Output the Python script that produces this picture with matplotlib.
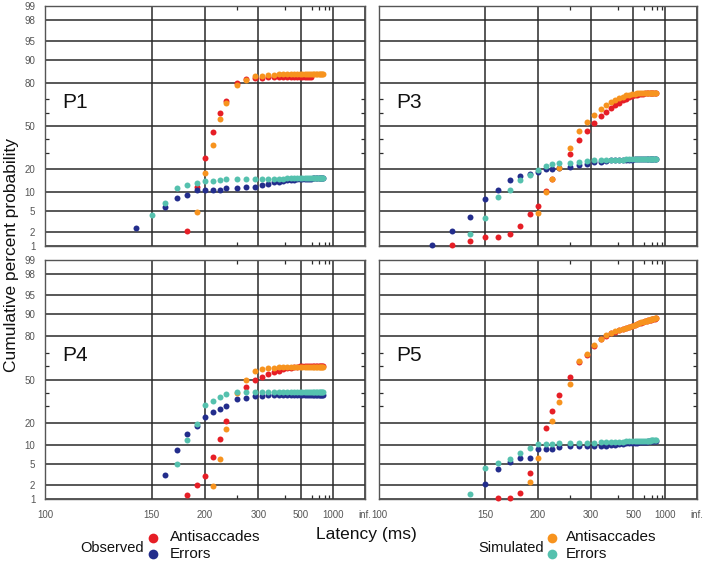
import math
import numpy as np
import matplotlib
matplotlib.use("Agg")
import matplotlib.pyplot as plt
from matplotlib.ticker import FixedLocator, FixedFormatter, NullFormatter
from matplotlib.lines import Line2D

plt.rcParams['font.family'] = ['Liberation Sans', 'DejaVu Sans']

n = np.nan
# latency bins (ms)
LAT = [120, 130, 140, 150, 160, 170, 180, 190, 200, 210, 220, 230, 250, 270, 290, 310,
       330, 350, 370, 390, 410, 430, 450, 470, 490, 510, 530, 550, 570, 590, 610, 630,
       650, 670, 690, 710, 730, 750, 770]

# ---- P1 ----
P1_obs_anti = [n, n, n, n, n, n, 2.1, 11.9, 26.6, 45.6, 59.8, 68.8, 80.0, 81.9,
               82.4, 82.6, 82.7, 82.8, 82.9, 82.9, 83.0, 83.0, 83.0, 83.0, 83.0, 83.0,
               83.0, 83.0, 83.0, 83.0, n, n, n, n, n, n, n, n, n]
P1_sim_anti = [n, n, n, n, n, n, n, 4.8, 17.9, 35.8, 55.2, 67.4, 78.7, 81.6,
               83.3, 83.6, 83.8, 84.0, 84.1, 84.1, 84.2, 84.2, 84.2, 84.2, 84.2, 84.3,
               84.3, 84.3, 84.3, 84.3, 84.3, 84.3, 84.3, 84.3, 84.3, 84.3, 84.3, 84.3, 84.3]
P1_obs_err = [n, n, 2.4, n, 5.9, 8.1, 9.1, 10.6, 10.6, 10.7, 10.8, 11.4, 11.4, 11.7,
              11.9, 12.7, 13.2, 13.8, 14.0, 14.4, 14.6, 14.8, 14.9, 15.0, 15.1, 15.2,
              15.3, 15.3, 15.4, 15.4, 15.5, 15.5, 15.6, 15.6, 15.7, 15.7, 15.8, 15.8, 15.8]
P1_sim_err = [n, n, n, 4.2, 6.8, 11.4, 12.6, 13.5, 14.4, 14.4, 14.8, 15.1, 15.1, 15.2,
              15.3, 15.3, 15.4, 15.4, 15.4, 15.4, 15.5, 15.5, 15.5, 15.5, 15.6, 15.6,
              15.6, 15.6, 15.6, 15.7, 15.7, 15.7, 15.7, 15.7, 15.8, 15.8, 15.8, 15.8, 15.8]

# ---- P3 ----
P3_obs_anti = [n, 1.05, 1.3, 1.6, 1.6, 1.8, 2.6, 4.4, 6.0, 10.4, 15.3, n, 29.4, 39.4,
               46.5, 52.0, 57.5, 61.0, 63.5, 65.5, 67.5, 69.0, 70.0, 71.0, 71.8, 72.3,
               72.8, 73.1, 73.3, 73.5, 73.6, 73.7, 73.7, 73.8, 73.8, 73.8, 73.8, 73.8, 73.8]
P3_sim_anti = [n, n, n, n, n, n, n, n, 4.6, 10.2, 15.1, 21.0, 33.3, 46.1,
               52.8, 58.8, 63.0, 65.8, 68.0, 69.5, 70.7, 71.6, 72.3, 72.8, 73.2, 73.5,
               73.7, 73.9, 74.0, 74.0, 74.0, 74.0, 74.0, 74.0, 74.0, 74.0, 74.0, 74.0, 74.0]
P3_obs_err = [1.05, 2.06, 3.9, 7.9, 10.8, 14.8, 16.6, 17.6, 18.4, 20.1, 20.3, 20.6, 21.4, 22.5,
              23.3, 24.0, 24.5, 25.0, 25.3, 25.5, 25.6, 25.7, 25.7, 25.8, 25.8, 25.9,
              25.9, 26.0, 26.0, 26.0, 26.1, 26.1, 26.1, 26.2, 26.2, 26.2, 26.2, 26.2, 26.2]
P3_sim_err = [n, n, 1.8, 3.75, 8.5, 10.8, 14.7, 17.2, 19.5, 22.0, 22.9, 23.4, 23.9, 24.5,
              25.0, 25.3, 25.5, 25.6, 25.7, 25.7, 25.8, 25.8, 25.9, 25.9, 26.0, 26.0,
              26.0, 26.1, 26.1, 26.1, 26.2, 26.2, 26.2, 26.3, 26.3, 26.3, 26.3, 26.3, 26.3]

# ---- P4 ----
P4_obs_anti = [n, n, n, n, n, n, 1.25, 2.0, 3.05, 6.5, 12.3, 21.2, n, 44.0,
               49.3, 52.0, 54.6, 55.8, 56.8, 57.8, 58.5, 59.1, 59.5, 59.8, 60.0, 60.2,
               60.3, 60.4, 60.5, 60.5, 60.6, 60.6, 60.6, 60.6, 60.6, 60.6, 60.6, 60.6, 60.6]
P4_sim_anti = [n, n, n, n, n, n, n, n, n, 1.9, 6.1, 17.0, 39.3, 50.0,
               56.5, 58.3, 58.9, 59.2, 59.4, 59.5, 59.5, 59.5, 59.5, 59.5, 59.5, 59.5,
               59.5, 59.6, 59.6, 59.6, 59.6, 59.6, 59.6, 59.6, 59.6, 59.6, 59.6, 59.6, 59.6]
P4_obs_err = [n, n, n, n, 3.1, 8.4, 14.6, 18.3, 23.0, 26.1, 28.1, 30.5, 34.9, 36.2,
              37.3, 37.7, 37.9, 38.0, 38.0, 38.0, 38.0, 38.0, 38.0, 38.1, 38.1, 38.1,
              38.1, 38.1, 38.1, 38.1, 38.1, 38.2, 38.2, 38.2, 38.2, 38.2, 38.2, 38.2, 38.2]
P4_sim_err = [n, n, n, n, n, 4.9, 11.9, 19.5, 30.7, 34.0, 36.4, 38.7, 40.7, 40.4,
              40.5, 40.5, 40.5, 40.5, 40.5, 40.6, 40.6, 40.6, 40.6, 40.6, 40.6, 40.6,
              40.6, 40.6, 40.6, 40.7, 40.7, 40.7, 40.7, 40.7, 40.7, 40.7, 40.7, 40.7, 40.7]

# ---- P5 ----
P5_obs_anti = [n, n, n, n, 1.03, 1.03, 1.37, 3.5, n, 17.2, 27.3, 37.8, 51.9, 63.0,
               68.5, 74.0, 78.3, 80.4, 81.5, 82.4, 83.0, 83.6, 84.1, 84.6, 85.1, 85.6,
               86.0, 86.3, 86.6, 86.9, 87.1, 87.3, 87.5, 87.7, 87.8, 88.0, 88.1, 88.2, 88.3]
P5_sim_anti = [n, n, n, n, n, n, n, 2.27, 6.3, n, 21.0, 32.8, 46.8, 63.7,
               69.2, 74.6, 78.5, 80.6, 81.7, 82.5, 83.1, 83.7, 84.2, 84.7, 85.2, 85.6,
               86.0, 86.4, 86.7, 87.0, 87.2, 87.4, 87.6, 87.8, 87.9, 88.1, 88.2, 88.3, 88.4]
P5_obs_err = [n, n, n, 2.07, 4.15, 5.5, 6.4, 6.4, 8.8, 8.9, 8.9, 9.6, 9.7, 9.7,
              9.8, 9.8, 9.8, 9.9, 10.0, 10.2, 10.4, 10.6, 10.7, 10.8, 10.9, 11.0,
              11.0, 11.1, 11.2, 11.2, 11.3, 11.3, 11.4, 11.4, 11.5, 11.5, 11.6, 11.6, 11.7]
P5_sim_err = [n, n, 1.27, 4.2, 5.2, 6.2, 7.6, 9.2, 10.3, 10.5, 10.6, 10.7, 10.8, 10.9,
              11.0, 11.0, 11.1, 11.1, 11.2, 11.2, 11.3, 11.3, 11.4, 11.4, 11.4, 11.5,
              11.5, 11.5, 11.6, 11.6, 11.6, 11.7, 11.7, 11.7, 11.8, 11.8, 11.8, 11.9, 11.9]

PANELS = ['P1', 'P3', 'P4', 'P5']
DATA = {
    'P1': (P1_obs_anti, P1_obs_err, P1_sim_anti, P1_sim_err),
    'P3': (P3_obs_anti, P3_obs_err, P3_sim_anti, P3_sim_err),
    'P4': (P4_obs_anti, P4_obs_err, P4_sim_anti, P4_sim_err),
    'P5': (P5_obs_anti, P5_obs_err, P5_sim_anti, P5_sim_err),
}

X_TICKS = [100, 150, 200, 300, 500, 1000, 1e12]
X_TICKLABELS = ['100', '150', '200', '300', '500', '1000', 'inf.']
X_MINOR = [250, 400, 600, 700, 800, 900]
Y_TICKS = [1, 2, 5, 10, 20, 50, 80, 90, 95, 98, 99]
Y_MINOR = [30, 40, 60, 70]

COLORS = ['#e61e26', '#232d8c', '#f7931e', '#55c1ae']  # obs anti, obs err, sim anti, sim err

# ---- scales: reciprocal latency and probit ----
def recip(L):
    L = np.asarray(L, dtype=float)
    with np.errstate(divide='ignore', invalid='ignore'):
        return -1000.0 / L

A = [-3.969683028665376e+01, 2.209460984245205e+02, -2.759285104469687e+02,
     1.383577518672690e+02, -3.066479806614716e+01, 2.506628277459239e+00]
B = [-5.447609879822406e+01, 1.615858368580409e+02, -1.556989798598866e+02,
     6.680131188771972e+01, -1.328068155288572e+01]
C = [-7.784894002430293e-03, -3.223964580411365e-01, -2.400758277161838e+00,
     -2.549732539343734e+00, 4.374664141464968e+00, 2.938163982698783e+00]
D = [7.784695709041462e-03, 3.224671290700398e-01, 2.445134137142996e+00,
     3.754408661907416e+00]


def probit(pct):
    arr = np.asarray(pct, dtype=float)
    shape = arr.shape
    p = np.clip(np.atleast_1d(arr).ravel() / 100.0, 1e-12, 1 - 1e-12)
    out = np.full(p.shape, np.nan)
    plow = 0.02425
    with np.errstate(invalid='ignore'):
        lo = p < plow
        hi = p > 1 - plow
    mid = (~lo) & (~hi) & np.isfinite(p)
    q = np.sqrt(-2 * np.log(p[lo]))
    out[lo] = (((((C[0]*q+C[1])*q+C[2])*q+C[3])*q+C[4])*q+C[5]) / ((((D[0]*q+D[1])*q+D[2])*q+D[3])*q+1)
    q = p[mid] - 0.5
    r = q * q
    out[mid] = (((((A[0]*r+A[1])*r+A[2])*r+A[3])*r+A[4])*r+A[5])*q / (((((B[0]*r+B[1])*r+B[2])*r+B[3])*r+B[4])*r+1)
    q = np.sqrt(-2 * np.log(1 - p[hi]))
    out[hi] = -(((((C[0]*q+C[1])*q+C[2])*q+C[3])*q+C[4])*q+C[5]) / ((((D[0]*q+D[1])*q+D[2])*q+D[3])*q+1)
    return out.reshape(shape)


_erf = np.vectorize(math.erf, otypes=[float])


def probit_inv(z):
    z = np.asarray(z, dtype=float)
    return 50.0 * (1.0 + _erf(z / math.sqrt(2.0)))


W, H = 704, 561
fig = plt.figure(figsize=(W / 100, H / 100), dpi=100)

boxes = {
    'P1': (45, 6, 365, 246),
    'P3': (379, 6, 697, 246),
    'P4': (45, 260, 365, 499),
    'P5': (379, 260, 697, 499),
}

GRID = '#2a2a2a'
TICKC = '#555555'

for name in PANELS:
    x0, y0, x1, y1 = boxes[name]
    ax = fig.add_axes([x0 / W, 1 - y1 / H, (x1 - x0) / W, (y1 - y0) / H])
    ax.set_xscale('function', functions=(recip, recip))
    ax.set_yscale('function', functions=(probit, probit_inv))
    ax.set_xlim(100, 1e12)
    ax.set_ylim(1, 99)

    ax.xaxis.set_major_locator(FixedLocator(X_TICKS))
    ax.xaxis.set_minor_locator(FixedLocator(X_MINOR))
    ax.yaxis.set_major_locator(FixedLocator(Y_TICKS))
    ax.yaxis.set_minor_locator(FixedLocator(Y_MINOR))
    ax.xaxis.set_minor_formatter(NullFormatter())
    ax.yaxis.set_minor_formatter(NullFormatter())

    bottom_row = name in ('P4', 'P5')
    left_col = name in ('P1', 'P4')
    if bottom_row:
        ax.xaxis.set_major_formatter(FixedFormatter(X_TICKLABELS))
    else:
        ax.xaxis.set_major_formatter(NullFormatter())
    if left_col:
        ax.yaxis.set_major_formatter(FixedFormatter([str(v) for v in Y_TICKS]))
    else:
        ax.yaxis.set_major_formatter(NullFormatter())

    ax.tick_params(axis='x', which='major', length=0, pad=8, labelsize=7, labelcolor=TICKC)
    ax.tick_params(axis='y', which='major', length=0, pad=7, labelsize=7, labelcolor=TICKC)
    ax.tick_params(axis='x', which='minor', direction='in', length=3, width=0.9,
                   color=GRID, top=True, bottom=True)
    ax.tick_params(axis='y', which='minor', direction='in', length=3, width=0.9,
                   color=GRID, left=True, right=True)

    ax.grid(True, which='major', color=GRID, linewidth=1.1)
    ax.set_axisbelow(True)
    for s in ax.spines.values():
        s.set_color('#555555')
        s.set_linewidth(1.0)

    obs_a, obs_e, sim_a, sim_e = DATA[name]
    for series, col in zip((obs_a, obs_e, sim_a, sim_e), COLORS):
        ax.plot(LAT, series, linestyle='none', marker='o', markersize=4.3,
                markeredgewidth=0, color=col, clip_on=False, zorder=3)

    ax.text(0.055, 0.60, name, transform=ax.transAxes, fontsize=15,
            ha='left', va='center', color='#111111')

# axis labels
fig.text(12 / W, 1 - 255 / H, 'Cumulative percent probability', rotation=90,
         ha='center', va='center', fontsize=12.5, color='#111111')
fig.text(366 / W, 1 - 535 / H, 'Latency (ms)', ha='center', va='center',
         fontsize=12.5, color='#111111')

# legend
def legend_dot(x, y, col):
    fig.add_artist(Line2D([x / W], [1 - y / H], marker='o', markersize=7,
                          markeredgewidth=0, color=col, linestyle='none',
                          transform=fig.transFigure))

fig.text(80 / W, 1 - 548 / H, 'Observed', ha='left', va='center', fontsize=10.5, color='#111111')
legend_dot(153, 538, COLORS[0])
legend_dot(153, 554, COLORS[1])
fig.text(170 / W, 1 - 537 / H, 'Antisaccades', ha='left', va='center', fontsize=11, color='#111111')
fig.text(170 / W, 1 - 554 / H, 'Errors', ha='left', va='center', fontsize=11, color='#111111')

fig.text(478 / W, 1 - 548 / H, 'Simulated', ha='left', va='center', fontsize=10.5, color='#111111')
legend_dot(552, 538, COLORS[2])
legend_dot(552, 554, COLORS[3])
fig.text(566 / W, 1 - 537 / H, 'Antisaccades', ha='left', va='center', fontsize=11, color='#111111')
fig.text(566 / W, 1 - 554 / H, 'Errors', ha='left', va='center', fontsize=11, color='#111111')

fig.savefig('out.png', dpi=100)
